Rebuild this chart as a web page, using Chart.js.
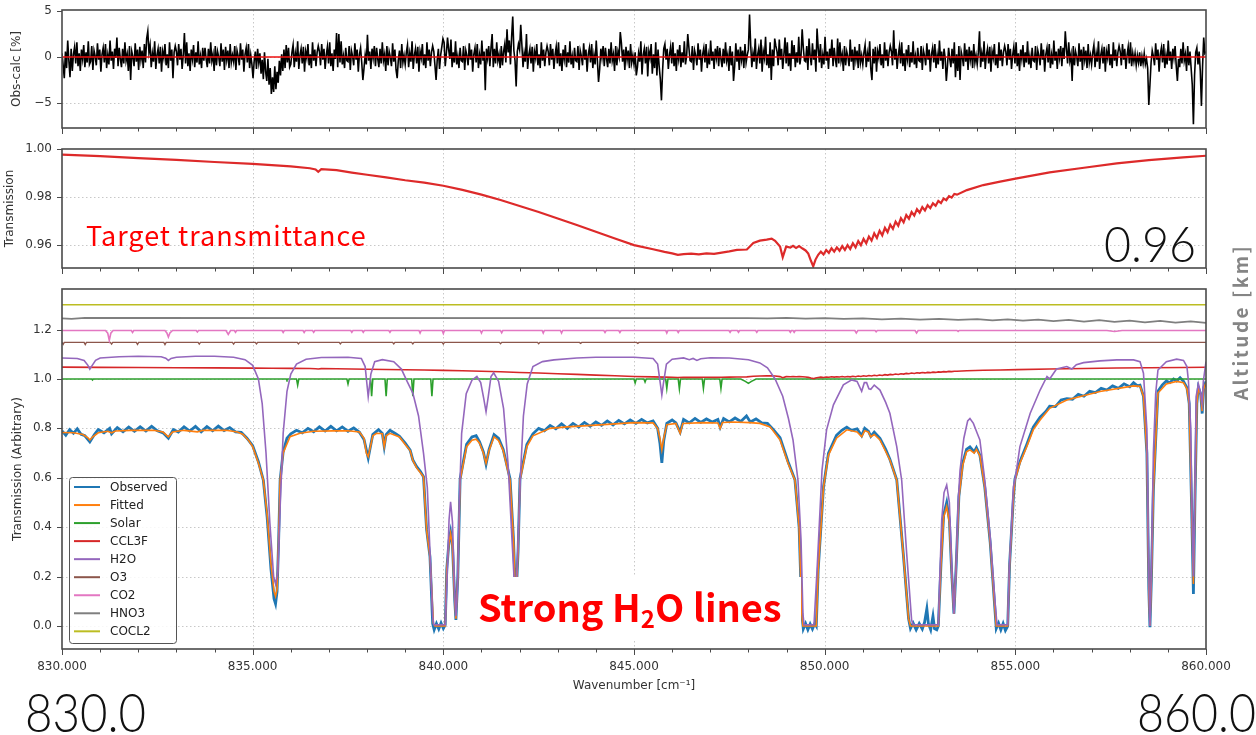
<!DOCTYPE html>
<html lang="en">
<head>
<meta charset="utf-8">
<title>Spectral fit 830-860 cm-1</title>
<script src="https://cdn.jsdelivr.net/npm/chart.js"></script>
<style>
  body { margin: 0; background: #fff; width: 1256px; height: 735px; position: relative; overflow: hidden; }
  canvas { position: absolute; left: 0; }
  #altitude {
    position: absolute; left: 1137px; top: 311px; width: 200px; height: 22px;
    line-height: 22px; text-align: center; transform: rotate(-90deg);
    font: bold 19px "Noto Sans CJK JP", "Noto Sans", sans-serif; letter-spacing: 2.5px; color: #858585;
  }
</style>
</head>
<body>
<canvas id="residchart" width="1256" height="140" style="top:0"></canvas>
<canvas id="targetchart" width="1256" height="140" style="top:140px"></canvas>
<canvas id="specchart" width="1256" height="455" style="top:280px"></canvas>
<div id="altitude">Altitude [km]</div>
<script>
// wavenumber axis
const X_TICKS = [830,831,832,833,834,835,836,837,838,839,840,841,842,843,844,845,846,847,848,849,850,851,852,853,854,855,856,857,858,859,860];
const X_MAJOR = [830,835,840,845,850,855,860];
const RESID_TICKS = [-5, 0, 5];
const TRANS_TICKS = [0.96, 0.98, 1.00];
const SPEC_TICKS = [0.0, 0.2, 0.4, 0.6, 0.8, 1.0, 1.2];

// obs-calc residual [%], sampled every 0.03 cm-1 from 830 (25 samples per row)
const RESID_START = 830, RESID_STEP = 0.03;
const RESIDUAL = [
  0.4,-0.9,-2.3,0.6,-1.2,1.8,-0.4,-2.2,0.9,-1.5,0.3,1.1,-0.7,1.6,-1.0,0.4,-1.5,0.8,-0.2,1.3,-1.1,0.5,-0.6,1.7,-0.8,
  -0.5,1.2,-1.4,0.7,0.1,-0.9,1.5,-0.3,0.8,-1.6,0.3,1.0,-0.6,1.4,-1.2,0.2,-0.8,1.8,-0.4,0.6,-1.3,0.9,-0.1,2.1,-1.0,
  1.0,-0.2,-1.1,0.9,-0.7,1.6,-0.4,0.3,-1.5,1.2,-2.5,0.6,0.0,-1.0,1.5,-0.5,0.8,-1.4,1.1,-0.3,0.7,-1.2,1.4,-0.6,2.0,
  2.8,0.5,1.3,-1.1,0.4,-0.5,1.7,-1.3,0.2,0.9,-0.7,1.1,-1.6,0.6,-0.1,1.4,-0.9,0.3,-1.2,1.6,-0.4,0.8,-2.3,0.5,1.2,
  0.6,-0.9,1.4,-0.3,0.9,-1.3,0.2,2.6,-0.7,1.6,-1.0,0.4,-1.5,0.8,-0.2,1.3,-1.1,0.5,-0.6,1.7,-0.8,0.1,-1.2,1.0,-0.4,
  1.0,-0.2,-1.1,0.9,-0.7,1.6,-0.4,0.3,-1.5,1.2,-0.9,0.6,0.0,-1.0,1.5,-0.5,0.8,-1.4,1.1,-0.3,0.7,-1.2,1.4,-0.6,0.2,
  -0.5,1.2,-1.4,0.7,0.1,-0.9,1.5,-0.3,0.8,-1.6,0.3,1.0,-0.6,1.4,-1.2,0.2,-0.8,-2.3,-0.4,0.6,-1.3,0.9,-0.6,0.4,-1.8,
  -0.3,-2.4,0.5,-1.6,-2.6,-0.2,-3.0,-1.2,-4.0,-2.2,-3.8,-1.0,-3.5,-1.6,-2.8,-0.4,-2.0,0.3,-1.5,0.8,-1.2,1.3,-0.6,1.0,-1.1,
  -0.8,0.5,1.3,-1.1,0.4,-0.5,1.7,-1.3,0.2,0.9,-0.7,1.1,-1.6,0.6,-0.1,1.4,-0.9,0.3,-1.2,1.6,-0.4,0.8,-1.0,0.5,1.2,
  0.6,-0.9,1.4,-0.3,0.9,-1.3,0.2,1.1,-0.7,1.6,-1.0,0.4,-1.5,0.8,-0.2,2.6,-1.1,2.5,-0.6,1.7,-0.8,0.1,-1.2,1.0,-0.4,
  -0.5,1.2,-1.4,0.7,0.1,-0.9,1.5,-0.3,0.8,-1.6,0.3,1.0,-0.6,-2.5,-1.2,0.2,-0.8,2.4,-0.4,0.6,-1.3,0.9,-0.1,1.2,-1.0,
  1.0,-0.2,-1.1,0.9,-0.7,1.6,-0.4,0.3,-1.5,1.2,-0.9,0.6,0.0,-1.0,1.5,-0.5,0.8,-1.4,-2.3,-0.3,0.7,-1.2,1.4,-0.6,0.2,
  -0.8,0.5,1.3,-1.1,0.4,-0.5,1.7,-1.3,0.2,0.9,-0.7,1.1,-1.6,0.6,-0.1,1.4,-0.9,0.3,-1.2,1.6,-0.4,0.8,-1.0,0.5,1.2,
  0.6,-0.9,-2.5,-0.3,0.9,-1.3,0.2,1.1,2.0,1.6,-1.0,0.4,2.1,0.8,-0.2,1.9,-1.1,0.5,-0.6,1.7,-0.8,0.1,-1.2,1.0,-0.4,
  -0.5,1.2,-1.4,0.7,0.1,-0.9,1.5,-0.3,0.8,-1.6,0.3,1.0,-0.6,1.4,-1.2,0.2,-0.8,1.8,-0.4,0.6,-3.6,0.9,-0.1,1.2,-1.0,
  1.0,2.5,-1.1,0.9,-0.7,1.6,-0.4,0.3,-1.2,1.2,-0.9,0.6,1.4,-0.6,3.0,0.5,1.8,-0.8,2.1,4.4,0.7,-0.4,-3.2,0.6,1.4,
  0.8,3.5,1.3,-1.1,0.4,-0.5,2.5,-1.3,0.2,0.9,-0.7,1.1,-1.6,0.6,-0.1,1.4,-0.9,0.3,-1.2,1.6,-0.4,0.8,-1.0,0.5,1.2,
  0.6,-0.9,1.4,-0.3,0.9,-1.3,0.2,1.1,-0.7,1.6,-1.0,0.4,-1.5,0.8,-0.2,1.3,-1.1,0.5,-0.6,1.7,-0.8,0.1,-1.2,1.0,-0.4,
  -0.5,1.2,-1.4,0.7,0.1,-0.9,1.5,-0.3,0.8,-1.6,0.3,1.0,-0.6,1.4,-1.2,0.2,-0.8,1.8,-0.4,-2.7,-1.3,0.9,-0.1,1.2,-1.0,
  1.0,-0.2,-1.1,0.9,-0.7,1.6,-0.4,0.3,-1.5,1.2,-0.9,0.6,0.0,2.7,1.5,-0.5,0.8,-1.4,1.1,-0.3,0.7,-1.2,1.4,-0.6,0.2,
  -0.8,0.5,-2.0,-1.1,0.4,-0.5,1.7,-1.9,0.2,0.9,-0.7,1.1,-2.1,0.6,-0.1,1.4,-1.8,0.3,-1.2,1.6,-2.0,0.8,-1.0,-2.4,-4.7,
  -1.5,0.9,1.4,-0.3,0.9,-1.3,0.2,1.1,-0.7,1.6,-1.0,0.4,-1.5,0.8,-0.2,1.3,-1.1,0.5,-0.6,1.7,-0.8,0.1,2.5,1.0,-0.4,
  -0.5,1.2,-1.4,0.7,0.1,-0.9,1.5,-0.3,0.8,-1.6,0.3,1.0,-0.6,1.4,-1.2,0.2,-0.8,1.8,-0.4,0.6,-1.3,0.9,-0.1,1.2,-1.0,
  1.0,-0.2,-1.1,0.9,-0.7,1.6,-0.4,0.3,-1.5,1.2,-0.9,0.6,-2.6,-1.0,1.5,-0.5,0.8,-1.4,1.1,-0.3,0.7,-1.2,1.4,-0.6,0.2,
  0.8,4.6,1.3,-1.1,0.4,-0.5,2.0,-1.3,0.2,0.9,-0.7,1.9,-1.6,0.6,-0.1,2.2,-0.9,0.3,-1.2,1.6,-2.5,0.8,-1.0,2.0,1.2,
  0.6,-0.9,1.9,-0.3,0.9,-1.3,0.2,2.1,-0.7,1.6,-1.0,0.4,-1.5,1.8,-0.2,1.3,-1.1,0.5,-0.6,2.2,-0.8,0.1,3.0,1.0,-0.4,
  -0.5,1.2,-1.4,2.0,0.1,-0.9,1.5,-0.3,0.8,-1.6,3.1,1.0,-0.6,1.4,-1.2,0.2,-0.8,2.2,-0.4,0.6,-1.3,0.9,-0.1,1.9,-1.0,
  1.0,-0.2,-1.1,2.0,-0.7,1.6,-0.4,0.3,-1.5,1.2,-0.9,0.6,0.0,-1.0,1.9,-0.5,0.8,-1.4,1.1,-0.3,0.7,-1.2,1.4,-0.6,0.2,
  -0.8,0.5,1.3,-1.1,0.4,-0.5,1.7,-1.3,-2.5,0.9,-0.7,1.1,-1.6,0.6,-0.1,1.4,-0.9,0.3,-1.2,1.6,-0.4,0.8,-1.0,0.5,1.2,
  0.6,-0.9,2.9,-0.3,0.9,-1.3,0.2,1.1,-0.7,1.6,-1.0,0.4,-1.5,0.8,-0.2,1.3,-1.1,0.5,-0.6,1.7,-0.8,0.1,-1.2,1.0,-0.4,
  -0.5,1.2,-1.4,0.7,0.1,-0.9,1.5,-0.3,0.8,-1.6,0.3,1.0,-0.6,1.4,-1.2,0.2,-0.8,1.8,-0.4,0.6,-1.3,0.9,-0.1,-2.6,-1.0,
  1.0,-0.2,-1.1,0.9,-0.7,1.6,-2.2,0.3,-1.5,1.2,-2.5,0.6,0.0,-1.0,1.5,-0.5,0.8,-1.4,1.1,-0.3,0.7,-1.2,1.4,-0.6,0.2,
  -0.8,0.5,2.8,-1.1,0.4,-0.5,1.7,-1.3,0.2,0.9,-0.7,1.1,-1.6,0.6,-0.1,1.4,-0.9,0.3,-1.2,1.6,-0.4,0.8,-1.0,0.5,1.2,
  0.6,-0.9,1.4,-0.3,0.9,-1.3,0.2,1.1,-0.7,1.6,-1.0,0.4,-1.5,0.8,-0.2,1.3,-1.1,0.5,-0.6,1.7,-0.8,0.1,-1.2,1.0,-0.4,
  -0.5,1.2,-1.4,0.7,0.1,-0.9,1.5,-0.3,0.8,-1.6,0.3,1.0,-0.6,1.4,-1.2,0.2,-0.8,1.8,-0.4,0.6,-1.3,0.9,-0.1,1.2,-1.0,
  1.0,-0.2,2.8,0.9,-0.7,1.6,-0.4,0.3,-2.6,1.2,-0.9,0.6,0.0,-1.0,1.5,-0.5,0.8,-1.4,1.1,-0.3,0.7,-1.2,1.4,-0.6,0.2,
  -0.8,0.5,1.3,-1.1,0.4,-0.5,1.7,-1.3,0.2,0.9,-0.7,1.1,-1.6,0.6,-0.1,1.4,-0.9,0.3,-1.2,1.6,-0.4,0.8,-1.0,0.5,1.2,
  0.6,-0.9,1.4,-0.3,0.9,-1.3,0.2,1.1,-0.7,1.6,-1.0,0.4,-0.5,0.4,-0.9,0.2,-0.6,0.5,-1.0,0.1,-0.7,0.4,-0.8,-0.2,-1.2,
  -5.2,-3.0,-0.6,0.7,0.1,-0.9,1.5,-0.3,0.8,-1.6,0.3,1.0,-0.6,1.4,-1.2,0.2,-0.8,1.8,-0.4,0.6,-1.3,0.9,-0.1,1.2,-1.0,
  -2.6,-0.2,-1.1,0.9,-0.7,1.6,-0.4,0.3,-1.5,1.2,-0.9,0.6,-1.2,-3.0,-7.3,-2.0,0.5,1.0,-0.8,0.6,-1.5,-5.3,-1.0,2.1,0.4,
  0.6
];

// CCL3F target transmittance
const CCL3F = [
  [830.0,0.9977],[831.0,0.9970],[832.0,0.9962],[833.0,0.9955],[834.0,0.9946],[835.0,0.9938],[835.5,0.9933],[836.0,0.9928],
  [836.5,0.9920],[836.65,0.9915],[836.72,0.9905],[836.8,0.9916],[837.2,0.9912],[837.6,0.9902],[838.0,0.9893],[838.5,0.9882],
  [839.0,0.9870],[839.5,0.9860],[840.0,0.9847],[840.5,0.9830],[841.0,0.9810],[841.5,0.9788],[842.0,0.9763],[842.5,0.9738],
  [843.0,0.9711],[843.5,0.9684],[844.0,0.9656],[844.5,0.9628],[845.0,0.9600],[845.5,0.9583],[845.8,0.9572],[846.0,0.9566],
  [846.15,0.9560],[846.3,0.9563],[846.5,0.9565],[846.7,0.9562],[846.9,0.9566],[847.1,0.9564],[847.3,0.9569],[847.5,0.9574],
  [847.7,0.9580],[847.96,0.9582],[848.13,0.9609],[848.3,0.9619],[848.48,0.9623],[848.61,0.9627],[848.7,0.9618],[848.83,0.9594],
  [848.9,0.9550],[848.99,0.9594],[849.1,0.9590],[849.17,0.9597],[849.25,0.9588],[849.33,0.9596],[849.42,0.9586],[849.5,0.9578],
  [849.57,0.9565],[849.64,0.9535],[849.7,0.9512],[849.76,0.9540],[849.83,0.9560],
  [849.90,0.9573],[849.97,0.9561],[850.04,0.9580],[850.11,0.9568],[850.18,0.9587],[850.25,0.9573],[850.32,0.9591],[850.39,0.9577],
  [850.46,0.9596],[850.53,0.9580],[850.60,0.9600],[850.67,0.9584],[850.74,0.9608],[850.81,0.9591],[850.88,0.9617],[850.95,0.9600],
  [851.02,0.9626],[851.09,0.9608],[851.16,0.9636],[851.23,0.9619],[851.30,0.9649],[851.37,0.9630],[851.44,0.9660],[851.51,0.9641],
  [851.58,0.9672],[851.65,0.9654],[851.72,0.9685],[851.79,0.9668],[851.86,0.9698],[851.93,0.9681],[852.00,0.9712],[852.07,0.9695],
  [852.14,0.9725],[852.21,0.9710],[852.28,0.9738],[852.35,0.9723],[852.42,0.9750],[852.49,0.9735],[852.56,0.9758],[852.63,0.9744],
  [852.70,0.9766],[852.77,0.9754],[852.84,0.9774],[852.91,0.9764],[852.98,0.9784],[853.05,0.9775],[853.12,0.9794],[853.19,0.9787],
  [853.26,0.9804],[853.33,0.9798],[853.40,0.9813],[853.47,0.9810],
  [853.73,0.9829],[854.16,0.9850],[854.6,0.9864],[855.04,0.9878],[855.9,0.9903],[856.8,0.9922],[857.66,0.9940],[858.5,0.9954],
  [859.4,0.9965],[860.0,0.9972]
];
const CCL3F_OFFSET = 0.05;   // shift used when stacked with the other species

const OBSERVED = [
  [830.00,0.790],[830.10,0.772],[830.20,0.795],[830.30,0.780],[830.40,0.798],[830.50,0.776],[830.60,0.770],[830.73,0.745],
  [830.85,0.775],[830.95,0.795],[831.10,0.782],[831.25,0.800],[831.30,0.778],[831.45,0.803],[831.60,0.786],[831.75,0.805],
  [831.90,0.788],[832.05,0.806],[832.20,0.789],[832.35,0.808],[832.50,0.790],[832.65,0.782],[832.79,0.760],[832.92,0.795],
  [833.05,0.785],[833.20,0.806],[833.35,0.789],[833.50,0.808],[833.65,0.786],[833.80,0.807],[833.95,0.790],[834.10,0.809],
  [834.25,0.791],[834.40,0.803],[834.55,0.786],[834.70,0.784],[834.85,0.760],[835.00,0.730],[835.15,0.665],[835.28,0.590],
  [835.38,0.440],[835.48,0.230],[835.56,0.110],[835.60,0.090],[835.64,0.140],[835.68,0.340],[835.72,0.590],[835.80,0.705],
  [835.90,0.760],[836.00,0.778],[836.15,0.792],[836.30,0.782],[836.45,0.800],[836.60,0.786],[836.75,0.806],[836.90,0.789],
  [837.05,0.808],[837.20,0.790],[837.35,0.806],[837.50,0.788],[837.65,0.802],[837.80,0.784],[837.92,0.755],[838.03,0.680],
  [838.08,0.720],[838.15,0.775],[838.30,0.795],[838.40,0.780],[838.45,0.726],[838.50,0.775],[838.60,0.792],[838.75,0.778],
  [838.85,0.768],[839.00,0.740],[839.13,0.712],[839.20,0.672],[839.30,0.645],[839.40,0.625],[839.48,0.604],[839.56,0.392],
  [839.65,0.280],[839.72,0.010],[839.76,-0.015],[839.82,0.010],[839.88,-0.012],[839.94,0.012],[840.00,-0.010],[840.05,0.005],
  [840.09,0.230],[840.15,0.345],[840.19,0.380],[840.24,0.325],[840.30,0.100],[840.33,0.025],[840.38,0.200],[840.44,0.595],
  [840.61,0.735],[840.75,0.765],[840.86,0.770],[840.95,0.745],[841.05,0.705],[841.12,0.655],[841.20,0.715],[841.33,0.775],
  [841.45,0.760],[841.57,0.715],[841.75,0.595],[841.84,0.350],[841.90,0.090],[841.96,0.300],[842.01,0.595],[842.19,0.735],
  [842.35,0.778],[842.50,0.800],[842.65,0.790],[842.80,0.812],[842.95,0.798],[843.10,0.818],[843.25,0.800],[843.40,0.820],
  [843.55,0.805],[843.70,0.824],[843.85,0.808],[844.00,0.826],[844.15,0.812],[844.30,0.830],[844.45,0.814],[844.60,0.832],
  [844.75,0.818],[844.90,0.834],[845.05,0.820],[845.20,0.836],[845.35,0.822],[845.50,0.830],[845.62,0.800],[845.68,0.740],
  [845.73,0.660],[845.78,0.750],[845.86,0.820],[846.00,0.834],[846.10,0.822],[846.21,0.785],[846.30,0.836],[846.45,0.822],
  [846.60,0.840],[846.75,0.824],[846.90,0.838],[847.05,0.826],[847.20,0.836],[847.26,0.805],[847.35,0.840],[847.50,0.826],
  [847.65,0.842],[847.80,0.828],[847.95,0.850],[848.05,0.826],[848.20,0.838],[848.35,0.822],[848.50,0.820],[848.65,0.796],
  [848.83,0.762],[849.04,0.665],[849.22,0.592],[849.33,0.400],[849.40,0.050],[849.44,-0.012],[849.50,0.010],[849.56,-0.015],
  [849.62,0.008],[849.68,-0.012],[849.74,0.010],[849.78,0.000],[849.83,0.227],[849.97,0.565],[850.10,0.700],[850.31,0.772],
  [850.45,0.792],[850.58,0.805],[850.70,0.792],[850.85,0.798],[850.97,0.770],[851.05,0.800],[851.15,0.788],[851.21,0.768],
  [851.30,0.785],[851.45,0.760],[851.60,0.715],[851.71,0.675],[851.89,0.592],[852.06,0.295],[852.20,0.030],[852.25,-0.010],
  [852.32,0.012],[852.40,-0.015],[852.48,0.010],[852.56,-0.012],[852.62,0.015],[852.68,0.070],[852.72,0.010],[852.78,-0.015],
  [852.84,0.040],[852.88,-0.010],[852.94,-0.015],[852.98,0.000],[853.05,0.250],[853.12,0.450],[853.20,0.500],[853.27,0.430],
  [853.33,0.220],[853.39,0.050],[853.45,0.250],[853.52,0.525],[853.62,0.660],[853.72,0.715],[853.81,0.725],[853.92,0.705],
  [853.98,0.722],[854.07,0.692],[854.20,0.560],[854.34,0.340],[854.45,0.100],[854.50,-0.010],[854.56,0.012],[854.62,-0.015],
  [854.68,0.010],[854.74,-0.018],[854.80,0.000],[854.85,0.250],[854.95,0.520],[854.99,0.595],[855.12,0.665],[855.30,0.735],
  [855.47,0.805],[855.65,0.845],[855.80,0.868],[855.90,0.890],[856.05,0.888],[856.20,0.915],[856.35,0.920],[856.50,0.918],
  [856.65,0.938],[856.80,0.930],[856.95,0.950],[857.10,0.945],[857.25,0.962],[857.40,0.955],[857.55,0.972],[857.70,0.962],
  [857.85,0.980],[858.00,0.968],[858.10,0.985],[858.20,0.972],[858.27,0.975],[858.36,0.930],[858.45,0.700],[858.50,0.150],
  [858.53,-0.005],[858.57,0.200],[858.62,0.550],[858.74,0.950],[858.85,0.975],[858.96,0.992],[859.05,0.985],[859.15,1.000],
  [859.23,0.992],[859.32,1.005],[859.41,0.990],[859.50,0.965],[859.56,0.900],[859.62,0.500],[859.67,0.130],[859.71,0.500],
  [859.76,0.900],[859.80,0.965],[859.86,0.940],[859.90,0.860],[859.94,0.965],[860.00,0.990]
];

const FITTED = [
  [830.00,0.783],[830.30,0.782],[830.55,0.775],[830.68,0.762],[830.73,0.753],[830.80,0.765],[830.95,0.782],[831.20,0.788],
  [831.30,0.782],[831.40,0.789],[831.80,0.792],[832.40,0.792],[832.65,0.785],[832.79,0.766],[832.90,0.785],[833.20,0.792],
  [833.55,0.786],[833.70,0.792],[834.30,0.792],[834.60,0.785],[834.75,0.775],[834.90,0.750],[835.00,0.726],[835.15,0.660],
  [835.28,0.590],[835.38,0.450],[835.48,0.250],[835.56,0.140],[835.60,0.120],[835.64,0.150],[835.68,0.350],[835.72,0.590],
  [835.80,0.700],[835.98,0.766],[836.24,0.780],[836.60,0.788],[837.10,0.790],[837.50,0.790],[837.80,0.785],[837.92,0.760],
  [837.98,0.700],[838.03,0.685],[838.08,0.720],[838.15,0.770],[838.25,0.780],[838.40,0.778],[838.45,0.726],[838.50,0.770],
  [838.60,0.780],[838.85,0.765],[839.00,0.735],[839.13,0.710],[839.20,0.670],[839.30,0.640],[839.40,0.620],[839.48,0.604],
  [839.56,0.390],[839.65,0.280],[839.74,0.010],[839.78,0.000],[840.05,0.000],[840.09,0.230],[840.15,0.340],[840.19,0.375],
  [840.24,0.320],[840.30,0.100],[840.33,0.030],[840.38,0.200],[840.44,0.590],[840.61,0.726],[840.75,0.752],[840.86,0.756],
  [840.95,0.740],[841.05,0.700],[841.12,0.659],[841.20,0.710],[841.33,0.766],[841.45,0.750],[841.57,0.710],[841.75,0.590],
  [841.84,0.350],[841.90,0.100],[841.96,0.300],[842.01,0.590],[842.19,0.726],[842.35,0.770],[842.80,0.800],[843.24,0.806],
  [844.10,0.814],[845.00,0.823],[845.50,0.822],[845.62,0.800],[845.68,0.760],[845.73,0.713],[845.78,0.760],[845.86,0.815],
  [846.10,0.820],[846.21,0.780],[846.28,0.820],[846.80,0.823],[847.20,0.822],[847.26,0.800],[847.32,0.824],[847.60,0.826],
  [848.04,0.823],[848.30,0.820],[848.57,0.806],[848.83,0.753],[849.04,0.659],[849.22,0.590],[849.33,0.400],[849.40,0.050],
  [849.43,0.000],[849.78,0.000],[849.83,0.227],[849.97,0.563],[850.10,0.692],[850.31,0.760],[850.58,0.794],[850.85,0.785],
  [850.97,0.766],[851.05,0.790],[851.15,0.785],[851.21,0.766],[851.30,0.775],[851.45,0.753],[851.71,0.672],[851.89,0.590],
  [852.06,0.295],[852.20,0.030],[852.25,0.000],[852.98,0.000],[853.05,0.250],[853.12,0.440],[853.20,0.483],[853.27,0.420],
  [853.33,0.220],[853.39,0.050],[853.45,0.250],[853.52,0.520],[853.62,0.650],[853.72,0.705],[853.81,0.713],[853.92,0.700],
  [853.98,0.715],[854.07,0.690],[854.20,0.560],[854.34,0.340],[854.45,0.100],[854.50,0.000],[854.80,0.000],[854.85,0.250],
  [854.95,0.520],[854.99,0.590],[855.12,0.659],[855.30,0.726],[855.47,0.794],[855.65,0.834],[855.90,0.881],[856.35,0.915],
  [857.22,0.949],[858.10,0.972],[858.27,0.970],[858.36,0.930],[858.45,0.700],[858.50,0.150],[858.53,0.000],[858.57,0.200],
  [858.62,0.550],[858.74,0.943],[858.96,0.980],[859.23,0.990],[859.41,0.985],[859.50,0.960],[859.56,0.900],[859.62,0.500],
  [859.67,0.170],[859.71,0.500],[859.76,0.900],[859.80,0.960],[859.86,0.940],[859.90,0.870],[859.94,0.960],[860.00,0.985]
];

const SOLAR = [
  [830,1.0],[830.78,1.0],[830.8,0.996],[830.82,1.0],[835.88,1.0],[835.9,0.996],[835.92,1.0],[836.15,1.0],[836.18,0.975],
  [836.21,1.0],[837.47,1.0],[837.5,0.98],[837.53,1.0],[838.09,1.0],[838.12,0.93],[838.15,1.0],[838.47,1.0],[838.5,0.93],
  [838.53,1.0],[839.17,1.0],[839.2,0.93],[839.23,1.0],[839.67,1.0],[839.7,0.93],[839.73,1.0],[845.0,1.0],[845.03,0.984],
  [845.06,1.0],[845.26,1.0],[845.29,0.988],[845.32,1.0],[845.83,1.0],[845.86,0.962],[845.89,1.0],[846.16,1.0],[846.19,0.96],
  [846.22,1.0],[846.79,1.0],[846.82,0.962],[846.85,1.0],[847.25,1.0],[847.28,0.962],[847.31,1.0],[847.8,1.0],[847.92,0.99],
  [848.0,0.982],[848.08,0.99],[848.2,1.0],[860,1.0]
];

const H2O = [
  [830.00,1.085],[830.40,1.083],[830.58,1.075],[830.68,1.055],[830.73,1.040],[830.78,1.052],[830.88,1.075],[831.00,1.085],
  [831.50,1.090],[832.00,1.092],[832.60,1.090],[832.72,1.084],[832.79,1.075],[832.86,1.083],[833.00,1.088],[833.50,1.092],
  [834.00,1.092],[834.50,1.088],[834.80,1.078],[835.00,1.055],[835.15,1.000],[835.25,0.900],[835.35,0.700],[835.45,0.420],
  [835.55,0.200],[835.60,0.170],[835.66,0.220],[835.72,0.480],[835.80,0.780],[835.90,0.950],[836.00,1.020],[836.15,1.060],
  [836.40,1.080],[836.80,1.087],[837.50,1.088],[837.85,1.083],[837.95,1.050],[838.03,0.928],[838.10,1.020],[838.20,1.070],
  [838.40,1.078],[838.70,1.070],[838.90,1.040],[839.05,0.990],[839.20,0.943],[839.35,0.850],[839.48,0.700],[839.58,0.560],
  [839.65,0.300],[839.72,0.040],[839.75,0.005],[840.05,0.005],[840.10,0.200],[840.15,0.430],[840.19,0.503],[840.24,0.420],
  [840.30,0.120],[840.33,0.040],[840.37,0.150],[840.42,0.500],[840.48,0.780],[840.60,0.940],[840.75,0.995],[840.88,1.010],
  [840.98,0.985],[841.06,0.920],[841.12,0.867],[841.18,0.930],[841.25,1.010],[841.32,1.025],[841.45,0.990],[841.58,0.880],
  [841.70,0.650],[841.80,0.350],[841.87,0.150],[841.90,0.120],[841.95,0.300],[842.02,0.600],[842.10,0.850],[842.20,0.980],
  [842.35,1.050],[842.60,1.070],[842.90,1.077],[843.50,1.085],[844.00,1.088],[845.00,1.088],[845.50,1.083],[845.62,1.060],
  [845.70,0.970],[845.73,0.935],[845.77,0.980],[845.85,1.060],[846.00,1.080],[846.30,1.085],[846.45,1.078],[846.55,1.083],
  [846.65,1.075],[846.75,1.082],[847.00,1.086],[847.50,1.085],[848.00,1.078],[848.30,1.065],[848.50,1.045],[848.70,1.000],
  [848.90,0.930],[849.05,0.840],[849.17,0.753],[849.30,0.590],[849.38,0.350],[849.43,0.050],[849.46,0.005],[849.72,0.005],
  [849.80,0.227],[849.93,0.630],[850.05,0.794],[850.23,0.895],[850.49,0.976],[850.71,0.996],[850.85,0.990],[850.97,0.950],
  [851.04,0.985],[851.10,0.985],[851.16,0.960],[851.21,0.958],[851.30,0.975],[851.45,0.955],[851.60,0.905],[851.71,0.861],
  [851.89,0.726],[852.02,0.590],[852.15,0.295],[852.28,0.024],[852.32,0.005],[852.98,0.005],[853.02,0.200],[853.07,0.430],
  [853.13,0.540],[853.20,0.571],[853.27,0.500],[853.33,0.250],[853.39,0.050],[853.45,0.250],[853.50,0.500],[853.55,0.630],
  [853.65,0.760],[853.75,0.830],[853.81,0.840],[853.90,0.820],[854.00,0.780],[854.07,0.753],[854.20,0.590],[854.34,0.362],
  [854.47,0.093],[854.52,0.005],[854.80,0.005],[854.84,0.227],[854.95,0.564],[855.00,0.600],[855.12,0.726],[855.39,0.861],
  [855.65,0.955],[855.83,1.010],[855.90,1.000],[856.08,1.040],[856.35,1.050],[856.48,1.040],[856.60,1.058],[856.79,1.066],
  [857.22,1.073],[857.66,1.077],[858.10,1.077],[858.27,1.070],[858.36,1.023],[858.45,0.794],[858.50,0.200],[858.53,0.000],
  [858.57,0.250],[858.62,0.700],[858.68,0.940],[858.74,1.036],[858.96,1.070],[859.23,1.080],[859.41,1.075],[859.50,1.050],
  [859.54,0.990],[859.60,0.800],[859.63,0.500],[859.67,0.200],[859.71,0.550],[859.74,0.928],[859.80,0.980],[859.85,0.950],
  [859.90,0.900],[859.93,0.990],[860.00,1.070]
];

const O3 = [
  [830,1.148],[830.03,1.140],[830.06,1.148],[830.58,1.148],[830.61,1.139],[830.64,1.148],[831.27,1.148],[831.3,1.141],
  [831.33,1.148],[831.95,1.148],[831.98,1.140],[832.01,1.148],[832.67,1.148],[832.7,1.139],[832.73,1.148],[833.57,1.148],
  [833.6,1.141],[833.63,1.148],[834.47,1.148],[834.5,1.141],[834.53,1.148],[835.07,1.148],[835.1,1.142],[835.13,1.148],
  [836.17,1.148],[836.2,1.142],[836.23,1.148],[837.27,1.148],[837.3,1.142],[837.33,1.148],[838.67,1.148],[838.7,1.142],
  [838.73,1.148],[839.17,1.148],[839.2,1.142],[839.23,1.148],[839.97,1.148],[840.0,1.141],[840.03,1.148],[841.47,1.148],
  [841.5,1.143],[841.53,1.148],[842.47,1.148],[842.5,1.143],[842.53,1.148],[843.57,1.148],[843.6,1.144],[843.63,1.148],
  [845.07,1.148],[845.1,1.144],[845.13,1.148],[860,1.148]
];

const CO2 = [
  [830,1.196],[831.14,1.196],[831.2,1.185],[831.24,1.156],[831.28,1.185],[831.34,1.196],[831.82,1.196],[831.85,1.188],
  [831.88,1.196],[832.7,1.196],[832.75,1.186],[832.79,1.170],[832.83,1.186],[832.9,1.196],[833.52,1.196],[833.55,1.190],
  [833.58,1.196],[834.3,1.196],[834.36,1.180],[834.42,1.196],[834.52,1.196],[834.55,1.189],[834.58,1.196],[835.77,1.196],
  [835.8,1.188],[835.83,1.196],[836.32,1.196],[836.35,1.188],[836.38,1.196],[836.57,1.196],[836.6,1.189],[836.63,1.196],
  [837.57,1.196],[837.6,1.189],[837.63,1.196],[837.87,1.196],[837.9,1.189],[837.93,1.196],[838.57,1.196],[838.6,1.189],
  [838.63,1.196],[839.36,1.196],[839.39,1.186],[839.42,1.196],[839.97,1.196],[840.0,1.184],[840.03,1.196],[840.97,1.196],
  [841.0,1.186],[841.03,1.196],[841.5,1.196],[841.53,1.187],[841.56,1.196],[842.59,1.196],[842.62,1.186],[842.65,1.196],
  [843.07,1.196],[843.1,1.186],[843.13,1.196],[844.21,1.196],[844.24,1.188],[844.27,1.196],[844.6,1.196],[844.63,1.188],
  [844.66,1.196],[845.83,1.196],[845.86,1.186],[845.89,1.196],[846.13,1.196],[846.16,1.188],[846.19,1.196],[847.49,1.196],
  [847.52,1.189],[847.55,1.196],[847.71,1.196],[847.74,1.189],[847.77,1.196],[848.19,1.196],[848.22,1.189],[848.25,1.196],
  [849.07,1.196],[849.1,1.189],[849.13,1.196],[849.17,1.196],[849.2,1.189],[849.23,1.196],[850.79,1.196],[850.83,1.186],
  [850.87,1.196],[851.32,1.196],[851.35,1.191],[851.38,1.196],[852.37,1.196],[852.41,1.186],[852.45,1.196],[853.47,1.196],
  [853.5,1.192],[853.53,1.196],[857.4,1.196],[857.6,1.192],[857.8,1.196],[860,1.196]
];

const HNO3 = [
  [830,1.245],[830.25,1.243],[830.6,1.247],[848,1.246],[848.5,1.245],[849,1.247],[849.5,1.244],[850,1.246],[850.5,1.243],
  [851,1.245],[851.5,1.241],[852,1.244],[852.5,1.240],[853,1.243],[853.5,1.239],[854,1.242],[854.4,1.237],[854.8,1.241],
  [855.2,1.236],[855.6,1.240],[856.0,1.234],[856.4,1.239],[856.8,1.232],[857.2,1.238],[857.6,1.231],[858.0,1.236],
  [858.4,1.229],[858.8,1.235],[859.2,1.228],[859.6,1.233],[860,1.227]
];

const COCL2 = [[830,1.300],[860,1.300]];

const SERIES_COLORS = {
  Observed: '#1f77b4', Fitted: '#ff7f0e', Solar: '#2ca02c', CCL3F: '#d62728', H2O: '#9467bd',
  O3: '#8c564b', CO2: '#e377c2', HNO3: '#7f7f7f', COCL2: '#bcbd22'
};

Chart.defaults.font.family = "'DejaVu Sans', sans-serif";
Chart.defaults.color = '#333';

const toXY = arr => arr.map(p => ({ x: p[0], y: p[1] }));
const GRID_COLOR = '#c2c2c2';

// dotted grid under the data, frame and outward ticks on top
const panelFrame = {
  id: 'panelFrame',
  beforeDatasetsDraw(chart) {
    const { ctx, chartArea: a, scales: { x, y } } = chart;
    ctx.save();
    ctx.strokeStyle = GRID_COLOR;
    ctx.lineWidth = 0.9;
    ctx.setLineDash([1.5, 2.5]);
    ctx.beginPath();
    X_MAJOR.forEach(v => {
      if (v <= x.min || v >= x.max) return;
      const px = Math.round(x.getPixelForValue(v)) + 0.5;
      ctx.moveTo(px, a.top); ctx.lineTo(px, a.bottom);
    });
    y.ticks.forEach(t => {
      const py = Math.round(y.getPixelForValue(t.value)) + 0.5;
      if (py < a.top + 2 || py > a.bottom - 2) return;
      ctx.moveTo(a.left, py); ctx.lineTo(a.right, py);
    });
    ctx.stroke();
    ctx.restore();
  },
  afterDatasetsDraw(chart) {
    const { ctx, chartArea: a, scales: { x, y } } = chart;
    ctx.save();
    ctx.strokeStyle = '#4a4a4a';
    ctx.lineWidth = 1;
    ctx.beginPath();
    X_TICKS.forEach(v => {
      const px = Math.round(x.getPixelForValue(v)) + 0.5;
      const len = X_MAJOR.includes(v) ? 6 : 3.5;
      ctx.moveTo(px, a.bottom); ctx.lineTo(px, a.bottom + len);
    });
    y.ticks.forEach(t => {
      const py = Math.round(y.getPixelForValue(t.value)) + 0.5;
      ctx.moveTo(a.left, py); ctx.lineTo(a.left - 5, py);
    });
    ctx.stroke();
    ctx.lineWidth = 1.6;
    ctx.strokeRect(a.left, a.top, a.right - a.left, a.bottom - a.top);
    ctx.restore();
  }
};

// fixed panel geometry: no label overhang padding
function clearPadding(s) {
  s.paddingTop = 0; s.paddingBottom = 0; s.paddingLeft = 0; s.paddingRight = 0;
}

function panelOptions(o) {
  return {
    responsive: false,
    animation: false,
    events: [],
    layout: { padding: { top: o.top, right: 50, left: 0, bottom: 0 } },
    plugins: { legend: { display: false }, tooltip: { enabled: false } },
    elements: { point: { radius: 0 }, line: { tension: 0 } },
    scales: {
      x: {
        type: 'linear', min: 830, max: 860,
        border: { display: false },
        grid: { display: false, drawTicks: false },
        afterBuildTicks: s => { s.ticks = X_TICKS.map(v => ({ value: v })); },
        afterFit: s => { s.height = o.xHeight; clearPadding(s); },
        ticks: {
          display: !!o.xLabels, autoSkip: false, maxRotation: 0, padding: 11,
          font: { size: 12 }, color: '#333',
          callback: v => X_MAJOR.includes(v) ? v.toFixed(3) : ''
        },
        title: {
          display: !!o.xTitle, text: o.xTitle || '', color: '#333',
          font: { size: 12 }, padding: { top: 0, bottom: 42 }
        }
      },
      y: {
        type: 'linear', min: o.yMin, max: o.yMax,
        border: { display: false },
        grid: { display: false, drawTicks: false },
        afterBuildTicks: s => { s.ticks = o.yTicks.map(v => ({ value: v })); },
        afterFit: s => { s.width = 62; clearPadding(s); },
        ticks: { padding: 10, font: { size: 12 }, color: '#333', callback: o.yFormat },
        title: {
          display: true, text: o.yTitle, color: '#333',
          font: { size: 12 }, padding: { top: o.titlePad, bottom: 0 }
        }
      }
    }
  };
}

// residual panel
new Chart(document.getElementById('residchart'), {
  type: 'line',
  data: {
    datasets: [
      { data: [{ x: 830, y: 0 }, { x: 860, y: 0 }], borderColor: '#ee1111', borderWidth: 1.6, order: 1 },
      { data: RESIDUAL.map((v, i) => ({ x: RESID_START + i * RESID_STEP, y: v })), borderColor: '#000', borderWidth: 1.6, order: 2 }
    ]
  },
  options: panelOptions({
    top: 10, xHeight: 12, yMin: -7.7, yMax: 5.1, yTicks: RESID_TICKS, titlePad: 10,
    yTitle: 'Obs-calc [%]', yFormat: v => v < 0 ? '\u2212' + Math.abs(v) : String(v)
  }),
  plugins: [panelFrame]
});

// target transmittance panel
const targetNotes = {
  id: 'targetNotes',
  afterDraw(chart) {
    const ctx = chart.ctx;
    ctx.save();
    ctx.textBaseline = 'alphabetic';
    ctx.fillStyle = '#ff0000';
    ctx.font = '27px "Noto Sans CJK JP", "Noto Sans", sans-serif';
    ctx.letterSpacing = '1px';
    ctx.fillText('Target transmittance', 86, 106, 281);
    ctx.letterSpacing = '0px';
    ctx.fillStyle = '#111';
    ctx.font = '300 50px Lato, "Noto Sans", sans-serif';
    ctx.textAlign = 'right';
    ctx.fillText('0.96', 1196, 122, 92);
    ctx.restore();
  }
};

new Chart(document.getElementById('targetchart'), {
  type: 'line',
  data: {
    datasets: [{ data: toXY(CCL3F), borderColor: '#dd2a2a', borderWidth: 2.2 }]
  },
  options: panelOptions({
    top: 9, xHeight: 12, yMin: 0.9505, yMax: 1.0, yTicks: TRANS_TICKS, titlePad: 3,
    yTitle: 'Transmission', yFormat: v => v.toFixed(2)
  }),
  plugins: [panelFrame, targetNotes]
});

// species panel
const specSeries = [
  ['Observed', OBSERVED, 2.8],
  ['Fitted', FITTED, 1.6],
  ['Solar', SOLAR, 1.6],
  ['CCL3F', CCL3F.map(p => [p[0], p[1] + CCL3F_OFFSET]), 1.6],
  ['H2O', H2O, 1.6],
  ['O3', O3, 1.4],
  ['CO2', CO2, 1.6],
  ['HNO3', HNO3, 1.6],
  ['COCL2', COCL2, 1.6]
];

const specNotes = {
  id: 'specNotes',
  afterDatasetsDraw(chart) {
    const ctx = chart.ctx;
    ctx.save();
    // label box over the saturated lines
    ctx.fillStyle = '#fff';
    ctx.fillRect(470, 297, 331, 63);
    ctx.fillStyle = '#ff0000';
    ctx.textBaseline = 'alphabetic';
    let x = 478;
    const big = 'bold 38px "Noto Sans CJK JP", "Noto Sans", sans-serif';
    const small = 'bold 24px "Noto Sans CJK JP", "Noto Sans", sans-serif';
    [['Strong H', big, 0], ['2', small, 6], ['O lines', big, 0]].forEach(([t, f, dy]) => {
      ctx.font = f;
      ctx.fillText(t, x, 342 + dy);
      x += ctx.measureText(t).width;
    });
    ctx.restore();
  },
  afterDraw(chart) {
    const ctx = chart.ctx;
    ctx.save();
    // legend
    const lx = 69, ly = 197, lw = 107, lh = 166;
    ctx.fillStyle = 'rgba(255,255,255,0.85)';
    ctx.strokeStyle = '#555';
    ctx.lineWidth = 1;
    ctx.beginPath();
    ctx.roundRect(lx + 0.5, ly + 0.5, lw, lh, 3);
    ctx.fill();
    ctx.stroke();
    ctx.font = '12px "DejaVu Sans"';
    ctx.textBaseline = 'middle';
    chart.data.datasets.forEach((ds, i) => {
      const ry = ly + 10 + i * 18.04;
      ctx.strokeStyle = ds.borderColor;
      ctx.lineWidth = 2;
      ctx.beginPath();
      ctx.moveTo(74, ry); ctx.lineTo(100, ry);
      ctx.stroke();
      ctx.fillStyle = '#222';
      ctx.fillText(ds.label, 110, ry + 0.5);
    });
    // range labels under the axis
    ctx.fillStyle = '#111';
    ctx.font = '300 53px Lato, "Noto Sans", sans-serif';
    ctx.textBaseline = 'alphabetic';
    ctx.textAlign = 'left';
    ctx.fillText('830.0', 25, 452, 121);
    ctx.textAlign = 'right';
    ctx.fillText('860.0', 1256, 452, 119);
    ctx.restore();
  }
};

new Chart(document.getElementById('specchart'), {
  type: 'line',
  data: {
    datasets: specSeries.map((s, i) => ({
      label: s[0], data: toXY(s[1]), borderColor: SERIES_COLORS[s[0]],
      borderWidth: s[2], order: specSeries.length - i
    }))
  },
  options: panelOptions({
    top: 9, xHeight: 86, xLabels: true, xTitle: 'Wavenumber [cm\u207B\u00B9]',
    yMin: -0.093, yMax: 1.364, yTicks: SPEC_TICKS, titlePad: 11,
    yTitle: 'Transmission (Arbitrary)', yFormat: v => v.toFixed(1)
  }),
  plugins: [panelFrame, specNotes]
});
</script>
</body>
</html>
